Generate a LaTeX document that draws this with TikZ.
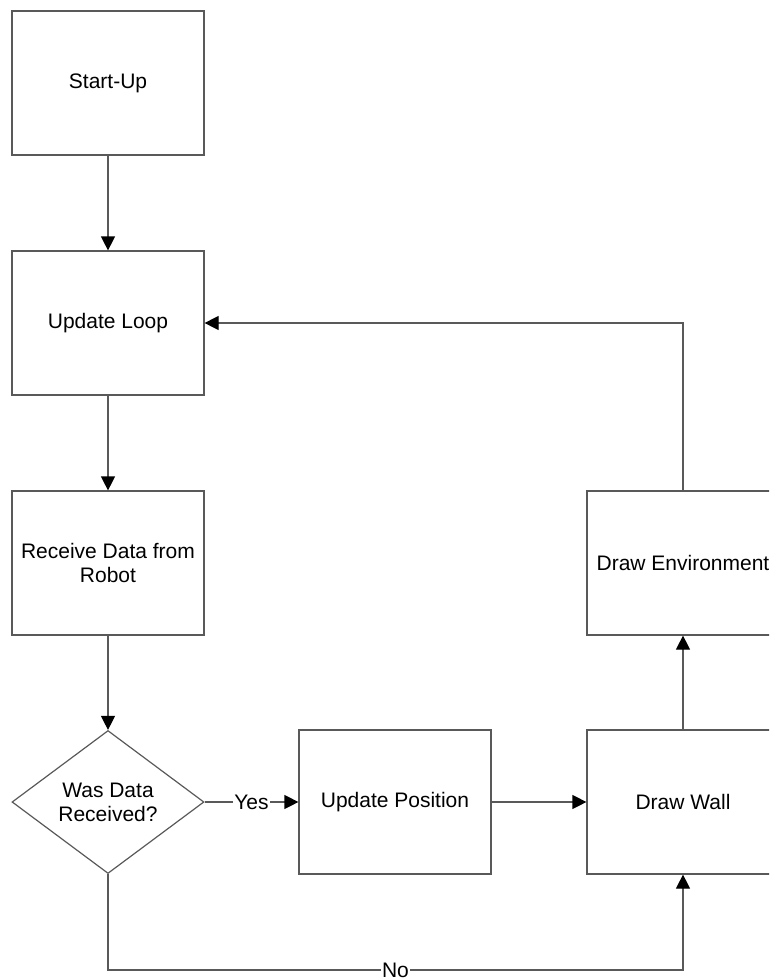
\documentclass[tikz,border=0pt]{standalone}
\usepackage{fontspec}
\setmainfont{Liberation Sans}
\usetikzlibrary{shapes.geometric,arrows.meta}
\tikzset{
  line/.style={draw=black!65, line width=1.2pt},
  stepbox/.style={line, rectangle, minimum width=192pt, minimum height=144pt,
    inner sep=0pt, align=center, font=\fontsize{21}{24}\selectfont},
  decide/.style={line, diamond, minimum width=192pt, minimum height=143pt,
    inner sep=0pt, align=center, font=\fontsize{21}{24}\selectfont},
  flow/.style={line, -{Triangle[length=14pt,width=14pt,color=black,fill=black]}},
  tag/.style={fill=white, inner sep=1pt, font=\fontsize{21}{24}\selectfont}
}
\begin{document}
\begin{tikzpicture}[x=1pt,y=-1pt]
  \useasboundingbox (0,0) rectangle (769,980);
  \clip (0,0) rectangle (769,980);
  \node[stepbox] (start)  at (108,83)  {Start-Up};
  \node[stepbox] (loop)   at (108,323) {Update Loop};
  \node[stepbox] (recv)   at (108,563) {Receive Data from\\Robot};
  \node[decide]  (dec)    at (108,802) {Was Data\\Received?};
  \node[stepbox] (pos)    at (395,802) {Update Position};
  \node[stepbox] (wall)   at (683,802) {Draw Wall};
  \node[stepbox] (env)    at (683,563) {Draw Environment};
  \coordinate (bend) at (108,970);

  \draw[flow] (start) -- (loop);
  \draw[flow] (loop) -- (recv);
  \draw[flow] (recv) -- (dec);
  \draw[flow] (dec) -- node[tag] {Yes} (pos);
  \draw[flow] (pos) -- (wall);
  \draw[flow] (wall) -- (env);
  \draw[flow] (env.north) |- (loop.east);
  \draw[flow] (dec.south) -- (bend) -- node[tag] {No} (bend -| wall) -- (wall.south);
\end{tikzpicture}
\end{document}
